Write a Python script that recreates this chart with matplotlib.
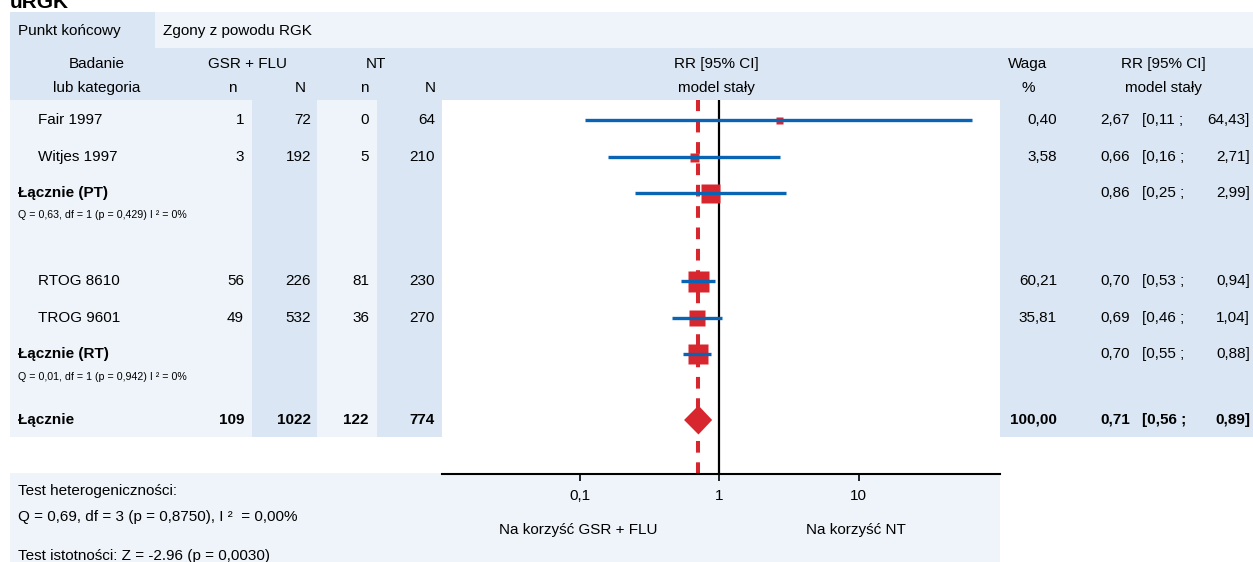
import matplotlib.pyplot as plt
from matplotlib.patches import Rectangle, Polygon

plt.rcParams['font.family'] = ['Liberation Sans', 'DejaVu Sans']

# data
labels = ["Fair 1997", "Witjes 1997", "Łącznie (PT)", "RTOG 8610", "TROG 9601", "Łącznie (RT)", "Łącznie"]
kind = ["study", "study", "sub", "study", "study", "sub", "total"]
n_gsr = [1, 3, None, 56, 49, None, 109]
N_gsr = [72, 192, None, 226, 532, None, 1022]
n_nt = [0, 5, None, 81, 36, None, 122]
N_nt = [64, 210, None, 230, 270, None, 774]
weight = [0.40, 3.58, None, 60.21, 35.81, None, 100.00]
rr = [2.67, 0.66, 0.86, 0.70, 0.69, 0.70, 0.71]
ci_lo = [0.11, 0.16, 0.25, 0.53, 0.46, 0.55, 0.56]
ci_hi = [64.43, 2.71, 2.99, 0.94, 1.04, 0.88, 0.89]
het_sub = ["Q = 0,63, df = 1 (p = 0,429) I ² = 0%", "Q = 0,01, df = 1 (p = 0,942) I ² = 0%"]
ticks = [0.1, 1, 10]
tick_labels = ["0,1", "1", "10"]

# layout (pixels)
W, H = 1253, 562
row_y = [120, 157, 193, 281, 318, 354, 420]
het_y = [215, 377]
box_px = [7, 9, 19, 21, 16, 20]
DARK = '#dae6f3'
LIGHT = '#eef4fa'
RED = '#d7262e'
BLUE = '#0a64b4'
FS = 11


def fmt(v):
    return f"{v:.2f}".replace('.', ',')


fig = plt.figure(figsize=(W / 100, H / 100), dpi=100)
bg = fig.add_axes([0, 0, 1, 1])
bg.set_xlim(0, W)
bg.set_ylim(H, 0)
bg.axis('off')


def rect(x0, y0, x1, y1, c):
    bg.add_patch(Rectangle((x0, y0), x1 - x0, y1 - y0, facecolor=c, edgecolor='none', zorder=0))


rect(10, 12, 155, 48, DARK)
rect(155, 12, W, 48, LIGHT)
rect(10, 48, W, 100, DARK)
rect(10, 100, 442, 437, LIGHT)
rect(252, 100, 317, 437, DARK)
rect(377, 100, 442, 437, DARK)
rect(1000, 100, W, 437, DARK)
rect(10, 473, 1000, H, LIGHT)

bg.text(10, 8, "uRGK", fontsize=15, fontweight='bold', va='baseline', ha='left')
bg.text(18, 31, "Punkt końcowy", fontsize=FS, va='center')
bg.text(163, 31, "Zgony z powodu RGK", fontsize=FS, va='center')

hdr = [(97, "Badanie", "lub kategoria"), (247, "GSR + FLU", None), (376, "NT", None),
       (716, "RR [95% CI]", "model stały"), (1028, "Waga", "%"), (1163, "RR [95% CI]", "model stały")]
for x, t1, t2 in hdr:
    bg.text(x, 64, t1, fontsize=FS, ha='center', va='center')
    if t2:
        bg.text(x, 88, t2, fontsize=FS, ha='center', va='center')
for x, t in [(232, "n"), (300, "N"), (364, "n"), (430, "N")]:
    bg.text(x, 88, t, fontsize=FS, ha='center', va='center')

for i, lab in enumerate(labels):
    y = row_y[i]
    fw = 'bold' if kind[i] == 'total' else 'normal'
    lx = 38 if kind[i] == 'study' else 18
    bg.text(lx, y, lab, fontsize=FS, va='center',
            fontweight='normal' if kind[i] == 'study' else 'bold')
    for x, col in [(244, n_gsr), (311, N_gsr), (369, n_nt), (435, N_nt)]:
        if col[i] is not None:
            bg.text(x, y, str(col[i]), fontsize=FS, ha='right', va='center', fontweight=fw)
    if weight[i] is not None:
        bg.text(1057, y, fmt(weight[i]), fontsize=FS, ha='right', va='center', fontweight=fw)
    bg.text(1130, y, fmt(rr[i]), fontsize=FS, ha='right', va='center', fontweight=fw)
    bg.text(1142, y, "[" + fmt(ci_lo[i]) + " ;", fontsize=FS, ha='left', va='center', fontweight=fw)
    bg.text(1250, y, fmt(ci_hi[i]) + "]", fontsize=FS, ha='right', va='center', fontweight=fw)

for t, y in zip(het_sub, het_y):
    bg.text(18, y, t, fontsize=7.7, va='center')

bg.text(18, 491, "Test heterogeniczności:", fontsize=FS, va='center')
bg.text(18, 517, "Q = 0,69, df = 3 (p = 0,8750), I ²  = 0,00%", fontsize=FS, va='center')
bg.text(18, 556, "Test istotności: Z = -2.96 (p = 0,0030)", fontsize=FS, va='center')

# forest plot
ax = fig.add_axes([442 / W, 1 - 474 / H, 558 / W, 374 / H])
ax.set_facecolor('none')
ax.set_xscale('log')
ax.set_xlim(0.0103, 103)
ax.set_ylim(474, 100)
for s in ['top', 'left', 'right']:
    ax.spines[s].set_visible(False)
ax.spines['bottom'].set_linewidth(1.5)
ax.set_yticks([])
ax.set_xticks(ticks)
ax.set_xticklabels(tick_labels, fontsize=FS)
ax.minorticks_off()
ax.tick_params(axis='x', direction='out', length=5, width=1.2, pad=6)

ax.axvline(1, color='black', lw=1.6, zorder=1)
ax.axvline(rr[-1], color=RED, lw=2.9, ls=(0, (2.9, 2.4)), zorder=1)

for i in range(len(labels) - 1):
    y = row_y[i]
    ax.plot([rr[i]], [y], marker='s', ms=box_px[i] * 0.72, color=RED, mec='none', zorder=3)
    ax.plot([ci_lo[i], ci_hi[i]], [y, y], color=BLUE, lw=2.4, solid_capstyle='butt', zorder=4)

yt = row_y[-1]
ax.add_patch(Polygon([(ci_lo[-1], yt), (rr[-1], yt - 14.5), (ci_hi[-1], yt), (rr[-1], yt + 14.5)],
                     closed=True, facecolor=RED, edgecolor='none', zorder=3))

bg.text(578, 530, "Na korzyść GSR + FLU", fontsize=FS, ha='center', va='center')
bg.text(856, 530, "Na korzyść NT", fontsize=FS, ha='center', va='center')

fig.savefig("out.png", dpi=100)
